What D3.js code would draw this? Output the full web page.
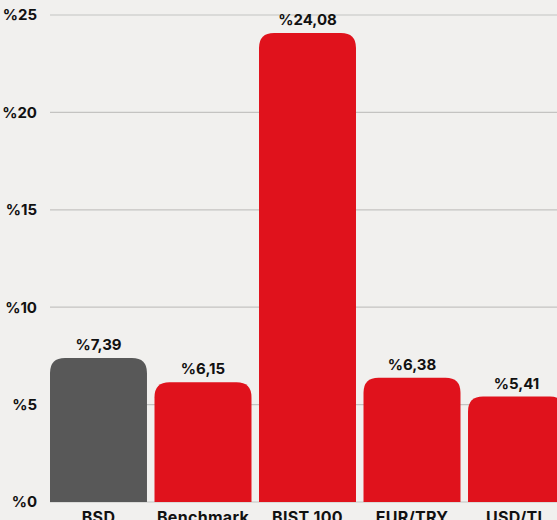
<!DOCTYPE html>
<html>
<head>
<meta charset="utf-8">
<script src="https://cdn.jsdelivr.net/npm/d3@7"></script>
<style>
  html, body { margin: 0; padding: 0; background: #f1f0ee; overflow: hidden; }
  svg { display: block; font-family: "Inter", "Lato", sans-serif; }
</style>
</head>
<body>
<svg id="chart"></svg>
<script>
var categories = ["BSD", "Benchmark", "BIST 100", "EUR/TRY", "USD/TL"];
var values = [7.39, 6.15, 24.08, 6.38, 5.41];
var tickValues = [0, 5, 10, 15, 20, 25];

var width = 557, height = 520;
var svg = d3.select("#chart").attr("width", width).attr("height", height);

var y = d3.scaleLinear().domain([0, 25]).range([502, 15]);
var x = d3.scaleBand().domain(categories).range([50, 565]).paddingInner(0.072).paddingOuter(0);

function fmt(v) { return "%" + d3.format(".2f")(v).replace(".", ","); }

// Grid lines
svg.selectAll(".grid")
  .data(tickValues)
  .enter().append("line")
  .attr("class", "grid")
  .attr("x1", 50).attr("x2", width)
  .attr("y1", function (d) { return y(d); })
  .attr("y2", function (d) { return y(d); })
  .style("stroke", "#c4c3c1")
  .style("stroke-width", 1.2);

// Y labels
svg.selectAll(".ylab")
  .data(tickValues)
  .enter().append("text")
  .attr("class", "ylab")
  .attr("x", 37)
  .attr("y", function (d) { return y(d); })
  .attr("dy", "0.36em")
  .attr("text-anchor", "end")
  .style("font-size", "15px")
  .style("font-weight", 700)
  .style("fill", "#111")
  .text(function (d) { return "%" + d; });

// Bars with rounded tops
var r = 15;
function barPath(d, i) {
  var x0 = x(categories[i]), w = x.bandwidth();
  var top = y(d), bottom = y(0);
  return "M" + x0 + "," + bottom +
    "V" + (top + r) +
    "Q" + x0 + "," + top + " " + (x0 + r) + "," + top +
    "H" + (x0 + w - r) +
    "Q" + (x0 + w) + "," + top + " " + (x0 + w) + "," + (top + r) +
    "V" + bottom + "Z";
}
svg.selectAll(".bar")
  .data(values)
  .enter().append("path")
  .attr("class", "bar")
  .attr("d", barPath)
  .style("fill", function (d, i) { return i === 0 ? "#585858" : "#e0121c"; });

// Value labels
svg.selectAll(".val")
  .data(values)
  .enter().append("text")
  .attr("class", "val")
  .attr("x", function (d, i) { return x(categories[i]) + x.bandwidth() / 2; })
  .attr("y", function (d) { return y(d) - 8; })
  .attr("text-anchor", "middle")
  .style("font-size", "15px")
  .style("font-weight", 700)
  .style("fill", "#111")
  .text(fmt);

// Category labels
svg.selectAll(".cat")
  .data(categories)
  .enter().append("text")
  .attr("class", "cat")
  .attr("x", function (d) { return x(d) + x.bandwidth() / 2; })
  .attr("y", 523)
  .attr("text-anchor", "middle")
  .style("font-size", "16px")
  .style("font-weight", 700)
  .style("letter-spacing", "0.3px")
  .style("fill", "#111")
  .text(function (d) { return d; });
</script>
</body>
</html>
